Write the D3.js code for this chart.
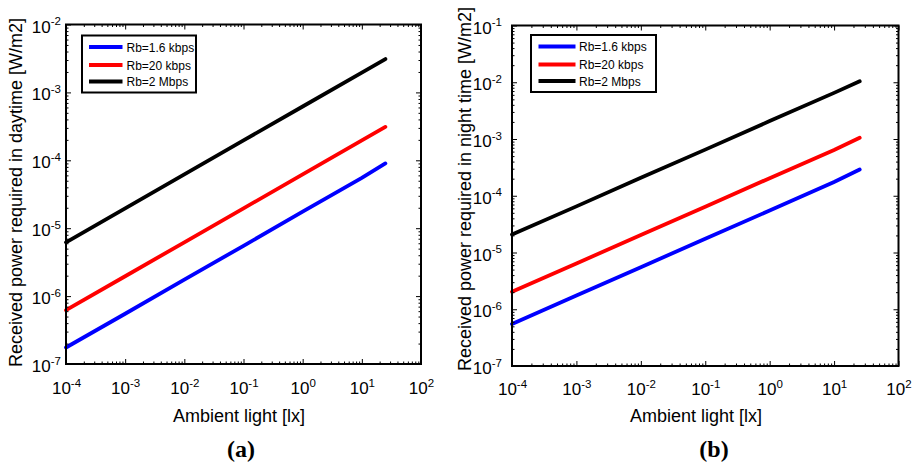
<!DOCTYPE html>
<html>
<head>
<meta charset="utf-8">
<script src="https://cdn.jsdelivr.net/npm/d3@7"></script>
<style>
  html, body { margin: 0; padding: 0; background: #fff; }
  svg { display: block; }
  text { font-family: "Liberation Sans", Arial, sans-serif; fill: #000; }
</style>
</head>
<body>
<svg id="chart" width="918" height="467"></svg>
<script>
// ---------------- DATA ----------------
const ambientLux = [1e-4, 1e-3, 1e-2, 1e-1, 1, 10, 25];
const seriesNames = ["Rb=1.6 kbps", "Rb=20 kbps", "Rb=2 Mbps"];
const seriesColors = ["#0000ff", "#ff0000", "#000000"];

// (a) daytime
const dayRb1k6 = [1.75e-7, 5.5e-7, 1.75e-6, 5.5e-6, 1.75e-5, 5.5e-5, 9.0e-5];
const dayRb20k = [6.2e-7, 1.96e-6, 6.2e-6, 1.96e-5, 6.2e-5, 1.96e-4, 3.1e-4];
const dayRb2M  = [6.2e-6, 1.96e-5, 6.2e-5, 1.96e-4, 6.2e-4, 1.96e-3, 3.1e-3];

// (b) night time
const nightRb1k6 = [5.5e-7, 1.75e-6, 5.5e-6, 1.75e-5, 5.5e-5, 1.75e-4, 2.9e-4];
const nightRb20k = [2.04e-6, 6.4e-6, 2.04e-5, 6.4e-5, 2.04e-4, 6.4e-4, 1.05e-3];
const nightRb2M  = [2.07e-5, 6.5e-5, 2.07e-4, 6.5e-4, 2.07e-3, 6.5e-3, 1.04e-2];

const xTickExps = [-4, -3, -2, -1, 0, 1, 2];
const yTickExpsA = [-7, -6, -5, -4, -3, -2];
const yTickExpsB = [-7, -6, -5, -4, -3, -2, -1];

const xLabel = "Ambient light [lx]";
const yLabelA = "Received power required in daytime [W/m2]";
const yLabelB = "Received power required in night time [W/m2]";

// ---------------- DRAW ----------------
const svg = d3.select("#chart");

function minorTicks(exps) {
  const out = [];
  for (let i = 0; i < exps.length - 1; i++) {
    for (let k = 2; k <= 9; k++) out.push(k * Math.pow(10, exps[i]));
  }
  return out;
}

function supLabel(sel) {
  sel.selectAll(".tick text").each(function(d) {
    const t = d3.select(this);
    const e = Math.round(Math.log10(d));
    t.text(null);
    t.append("tspan").text("10");
    t.append("tspan").attr("dy", -7.5).style("font-size", "11.5px").text(String(e));
  });
}

function drawPanel(cfg) {
  const g = svg.append("g");
  const x = d3.scaleLog().domain([1e-4, 1e2]).range([cfg.left, cfg.right]);
  const y = d3.scaleLog().domain([Math.pow(10, cfg.yExps[0]), Math.pow(10, cfg.yExps[cfg.yExps.length - 1])])
    .range([cfg.bottom, cfg.top]);

  const xMaj = xTickExps.map(e => Math.pow(10, e));
  const yMaj = cfg.yExps.map(e => Math.pow(10, e));
  const xMin = minorTicks(xTickExps);
  const yMin = minorTicks(cfg.yExps);

  // data lines
  const line = d3.line().x(d => x(d[0])).y(d => y(d[1]));
  cfg.series.forEach((vals, i) => {
    g.append("path")
      .datum(ambientLux.map((v, j) => [v, vals[j]]))
      .attr("d", line)
      .attr("fill", "none")
      .attr("stroke", seriesColors[i])
      .attr("stroke-width", 3.8)
      .attr("stroke-linecap", "round");
  });

  const mk = (axis, tr) => {
    const a = g.append("g").attr("transform", tr).call(axis);
    a.select(".domain").remove();
    a.selectAll(".tick line").attr("stroke", "#000").attr("stroke-width", 1);
    return a;
  };
  // minor ticks
  mk(d3.axisBottom(x).tickValues(xMin).tickSize(-2.5).tickFormat(""), `translate(0,${cfg.bottom})`);
  mk(d3.axisTop(x).tickValues(xMin).tickSize(-2.5).tickFormat(""), `translate(0,${cfg.top})`);
  mk(d3.axisLeft(y).tickValues(yMin).tickSize(-2.5).tickFormat(""), `translate(${cfg.left},0)`);
  mk(d3.axisRight(y).tickValues(yMin).tickSize(-2.5).tickFormat(""), `translate(${cfg.right},0)`);

  // major ticks with labels
  const xb = mk(d3.axisBottom(x).tickValues(xMaj).tickSize(-5).tickFormat(d => "x"), `translate(0,${cfg.bottom})`);
  xb.selectAll(".tick text").attr("y", cfg.xLabOff).attr("dy", 0)
    .style("font-size", "17px").attr("text-anchor", "middle");
  supLabel(xb);
  mk(d3.axisTop(x).tickValues(xMaj).tickSize(-5).tickFormat(""), `translate(0,${cfg.top})`);
  const yl = mk(d3.axisLeft(y).tickValues(yMaj).tickSize(-5).tickFormat(d => "x"), `translate(${cfg.left},0)`);
  yl.selectAll(".tick text").attr("x", -cfg.yLabGap).attr("dy", 7.5)
    .style("font-size", "17px").attr("text-anchor", "end");
  supLabel(yl);
  mk(d3.axisRight(y).tickValues(yMaj).tickSize(-5).tickFormat(""), `translate(${cfg.right},0)`);

  // box
  g.append("rect")
    .attr("x", cfg.left).attr("y", cfg.top)
    .attr("width", cfg.right - cfg.left).attr("height", cfg.bottom - cfg.top)
    .attr("fill", "none").attr("stroke", "#000").attr("stroke-width", 2);

  // legend
  const L = cfg.legend;
  g.append("rect")
    .attr("x", L.x).attr("y", L.y).attr("width", L.w).attr("height", L.h)
    .attr("fill", "#fff").attr("stroke", "#000").attr("stroke-width", 2);
  seriesNames.forEach((name, i) => {
    const ry = L.rows[i];
    g.append("line")
      .attr("x1", L.lx1).attr("x2", L.lx2).attr("y1", ry).attr("y2", ry)
      .attr("stroke", seriesColors[i]).attr("stroke-width", 4);
    g.append("text")
      .attr("x", L.tx).attr("y", ry + 4.5)
      .style("font-size", "12px")
      .text(name);
  });

  // axis titles
  g.append("text")
    .attr("x", cfg.xTitleX).attr("y", 422)
    .attr("text-anchor", "middle").style("font-size", "18px")
    .text(xLabel);
  g.append("text")
    .attr("transform", `translate(${cfg.yTitleX},${cfg.yTitleY}) rotate(-90)`)
    .attr("text-anchor", "middle").style("font-size", "18px")
    .text(cfg.yLabel);
  g.append("text")
    .attr("x", cfg.capX).attr("y", 457)
    .attr("text-anchor", "middle")
    .style("font-family", "'Liberation Serif', 'Times New Roman', serif")
    .style("font-weight", "bold").style("font-size", "24px")
    .text(cfg.caption);
}

drawPanel({
  left: 66, right: 421, top: 24.5, bottom: 364,
  yExps: yTickExpsA,
  series: [dayRb1k6, dayRb20k, dayRb2M],
  xLabOff: 30, yLabGap: 5,
  legend: { x: 82, y: 35.5, w: 114, h: 57, lx1: 89, lx2: 122.5, tx: 126.5, rows: [47, 65, 81.5] },
  xTitleX: 239, yTitleX: 22, yTitleY: 192.5, yLabel: yLabelA,
  capX: 241, caption: "(a)"
});

drawPanel({
  left: 512, right: 898.5, top: 25.5, bottom: 366,
  yExps: yTickExpsB,
  series: [nightRb1k6, nightRb20k, nightRb2M],
  xLabOff: 29, yLabGap: 10,
  legend: { x: 531, y: 35, w: 125, h: 57, lx1: 538.5, lx2: 575.5, tx: 579, rows: [46.5, 64.5, 81] },
  xTitleX: 696, yTitleX: 471, yTitleY: 189, yLabel: yLabelB,
  capX: 714, caption: "(b)"
});
</script>
</body>
</html>
